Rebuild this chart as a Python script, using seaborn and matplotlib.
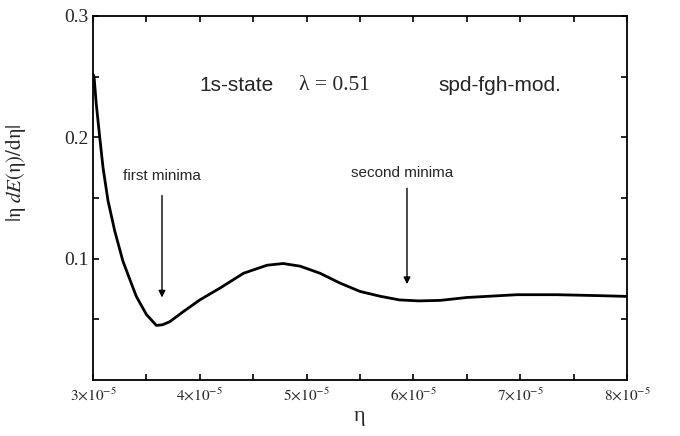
import numpy as np
import pandas as pd
import matplotlib
matplotlib.use("Agg")
import matplotlib.pyplot as plt
import seaborn as sns

# eta in units of 1e-5
eta_e5 = [3.00, 3.01, 3.03, 3.063, 3.094, 3.14, 3.203, 3.28, 3.34, 3.405,
          3.50, 3.593, 3.65, 3.718, 3.84, 4.00, 4.19, 4.41, 4.63, 4.78,
          4.94, 5.125, 5.31, 5.50, 5.69, 5.87, 6.05, 6.25, 6.50, 6.97,
          7.34, 7.75, 8.00]
deriv = [0.252, 0.250, 0.228, 0.200, 0.175, 0.148, 0.123, 0.098, 0.084, 0.069,
         0.054, 0.045, 0.0455, 0.048, 0.056, 0.066, 0.0758, 0.088, 0.0946, 0.096,
         0.0938, 0.088, 0.080, 0.073, 0.069, 0.066, 0.0652, 0.0656, 0.068, 0.0703,
         0.0703, 0.0695, 0.0689]

xtick_vals = [3, 4, 5, 6, 7, 8]
xtick_labels = [r"$%d{\times}10^{-5}$" % v for v in xtick_vals]
ytick_vals = [0.1, 0.2, 0.3]
ytick_labels = ["0.1", "0.2", "0.3"]

df = pd.DataFrame({"eta": np.array(eta_e5) * 1e-5, "val": deriv})

sns.set_style("ticks")
plt.rcParams["font.family"] = ["Liberation Sans", "DejaVu Sans"]
plt.rcParams["mathtext.fontset"] = "stix"

fig = plt.figure(figsize=(6.8, 4.36), dpi=100)
ax = fig.add_axes([93 / 680, 1 - 380 / 436, (627 - 93) / 680, (380 - 16) / 436])

sns.lineplot(data=df, x="eta", y="val", ax=ax, color="black", linewidth=2.0)

ax.set_xlim(3e-5, 8e-5)
ax.set_ylim(0, 0.3)

ax.set_xticks([v * 1e-5 for v in xtick_vals])
ax.set_xticklabels(xtick_labels, fontsize=11)
ax.set_xticks([v * 1e-5 for v in [3.5, 4.5, 5.5, 6.5, 7.5]], minor=True)
ax.set_yticks(ytick_vals)
ax.set_yticklabels(ytick_labels, fontsize=14, family="Liberation Serif")
ax.set_yticks([0.05, 0.15, 0.25], minor=True)

ax.tick_params(which="both", direction="in", top=True, right=True,
               length=4, width=1.2, color="black")
ax.tick_params(axis="x", which="major", pad=5)
for s in ax.spines.values():
    s.set_linewidth(1.3)
    s.set_color("black")

ax.set_xlabel("η", family="Liberation Serif", fontsize=16, labelpad=2)
ax.set_ylabel(r"$|\mathrm{η}\;dE(\mathrm{η})/\mathrm{dη}|$", fontsize=15)
ax.yaxis.set_label_coords(-0.122, 0.569)

ax.text(4.34e-5, 0.243, "1s-state", fontsize=15, ha="center", va="center")
ax.text(5.26e-5, 0.243, "λ = 0.51", fontsize=15.5, ha="center", va="center",
        family="Liberation Serif")
ax.text(6.81e-5, 0.243, "spd-fgh-mod.", fontsize=15, ha="center", va="center")

ax.text(3.646e-5, 0.168, "first minima", fontsize=11, ha="center", va="center")
ax.annotate("", xy=(3.646e-5, 0.068), xytext=(3.646e-5, 0.152),
            arrowprops=dict(arrowstyle="-|>", color="black", lw=1.0,
                            mutation_scale=10, shrinkA=0, shrinkB=0))
ax.text(5.89e-5, 0.171, "second minima", fontsize=11, ha="center", va="center")
ax.annotate("", xy=(5.94e-5, 0.079), xytext=(5.94e-5, 0.158),
            arrowprops=dict(arrowstyle="-|>", color="black", lw=1.0,
                            mutation_scale=10, shrinkA=0, shrinkB=0))

fig.savefig("out.png", dpi=100)
